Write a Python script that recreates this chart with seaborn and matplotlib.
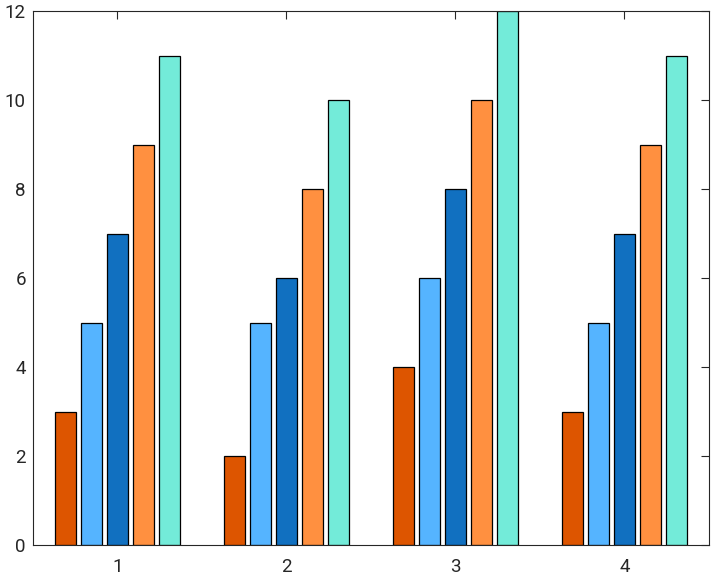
import matplotlib
matplotlib.use("Agg")
import matplotlib.pyplot as plt
import pandas as pd
import seaborn as sns

groups = ["1", "2", "3", "4"]
series_a = [3, 2, 4, 3]
series_b = [5, 5, 6, 5]
series_c = [7, 6, 8, 7]
series_d = [9, 8, 10, 9]
series_e = [11, 10, 12, 11]
series_names = ["A", "B", "C", "D", "E"]
palette = ["#DD5500", "#55B4FF", "#1170C0", "#FF9040", "#73EBD9"]

rows = []
for name, vals in zip(series_names, [series_a, series_b, series_c, series_d, series_e]):
    for g, v in zip(groups, vals):
        rows.append({"group": g, "series": name, "value": v})
df = pd.DataFrame(rows)

sns.set_style("white")
plt.rcParams["font.family"] = ["Roboto", "DejaVu Sans"]

fig = plt.figure(figsize=(7.14, 5.79), dpi=100)
ax = fig.add_axes([0.046, 0.0587, 0.947, 0.9223])
sns.barplot(data=df, x="group", y="value", hue="series", palette=palette,
            saturation=1, width=0.77, gap=0.19, edgecolor="black",
            linewidth=0.9, legend=False, ax=ax)

ax.set_xlim(-0.5, 3.5)
ax.set_ylim(0, 12)
ax.set_yticks(range(0, 13, 2))
ax.set_xlabel("")
ax.set_ylabel("")
for s in ax.spines.values():
    s.set_visible(True)
    s.set_color("#262626")
    s.set_linewidth(0.8)
ax.tick_params(direction="in", top=True, right=True, length=6, width=0.8,
               colors="#262626", labelsize=13.5)
ax.tick_params(axis="x", pad=9)
ax.tick_params(axis="y", pad=5)

fig.savefig("out.png", dpi=100)
